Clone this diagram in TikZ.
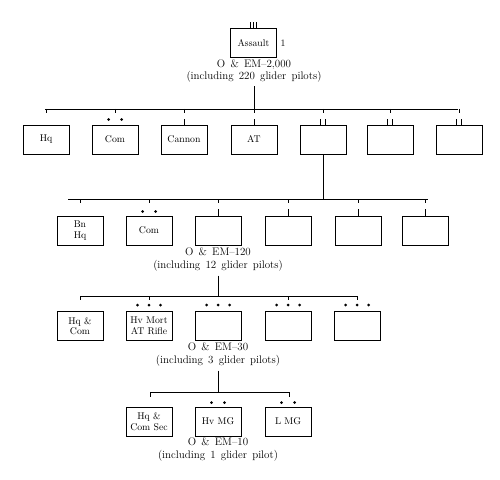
\documentclass[tikz,border=0pt]{standalone}
\newcommand\captfont{\fontsize{11}{12.5}\selectfont\spaceskip 5.2pt plus 1pt minus 1pt\relax}
\begin{document}
\begin{tikzpicture}[x=1bp,y=-1bp,line width=1pt,
  unit/.style={draw, minimum width=46bp, minimum height=29bp, inner sep=1pt, align=center,
    font=\fontsize{9.8}{10.8}\selectfont},
  capt/.style={align=center, inner sep=0pt, font=\captfont},
  sdot/.style={fill=black}]
\useasboundingbox (0,0) rectangle (500,480);

% ---------- regiment ----------
\node[unit] (reg) at (253.5,43.5) {Assault};
\node[anchor=west, inner sep=0pt, font=\fontsize{9.8}{10.8}\selectfont] (regno) at (280,43.5) {1};
\foreach \dx in {-3,0,3} \draw ([xshift=\dx bp]reg.north) -- ++(0,-6);
\node[capt] (regcap) at (254,71) {O \& EM--2,000\\(including 220 glider pilots)};

% ---------- row 1 ----------
\coordinate (r1L) at (45,109);
\coordinate (r1R) at (458,109);
\coordinate (r1C) at (254,109);
\node[unit] (a1) at (46,139.5) {Hq};
\node[unit] (a2) at (115,139.5) {Com};
\node[unit] (a3) at (184,139.5) {Cannon};
\node[unit] (a4) at (254,139.5) {AT};
\node[unit] (a5) at (323,139.5) {};
\node[unit] (a6) at (390,139.5) {};
\node[unit] (a7) at (459,139.5) {};
\draw ([yshift=-3bp]regcap.south -| r1C) -- (r1C);
\draw (r1L) -- (r1R);
\foreach \n in {a1,a2,a3,a4,a5,a6,a7} \draw (\n.north |- r1L) -- ++(0,4);
\foreach \dx in {-6.5,6.5} \fill[sdot] ([xshift=\dx bp,yshift=5bp]a2.north) circle (1.5bp);
\foreach \n in {a3,a4} \draw (\n.north) -- ++(0,-6);
\foreach \n in {a5,a6,a7} \foreach \dx in {-2.5,2.5} \draw ([xshift=\dx bp]\n.north) -- ++(0,-6);

% ---------- row 2 ----------
\coordinate (r2L) at (68,199);
\coordinate (r2R) at (428,199);
\node[unit] (b1) at (80,230.5) {Bn\\Hq};
\node[unit] (b2) at (149,230.5) {Com};
\node[unit] (b3) at (218,230.5) {};
\node[unit] (b4) at (288,230.5) {};
\node[unit] (b5) at (358,230.5) {};
\node[unit] (b6) at (425,230.5) {};
\draw (a5.south) -- (a5.south |- r2L);
\draw (r2L) -- (r2R);
\foreach \n in {b1,b2,b3,b4,b5,b6} \draw (\n.north |- r2L) -- ++(0,4);
\foreach \dx in {-6.5,6.5} \fill[sdot] ([xshift=\dx bp,yshift=4bp]b2.north) circle (1.5bp);
\foreach \n in {b3,b4,b5,b6} \draw (\n.north) -- ++(0,-7);
\node[capt] (b3cap) at (218,259.5) {O \& EM--120\\(including 12 glider pilots)};

% ---------- row 3 ----------
\coordinate (r3L) at (80,296);
\coordinate (r3R) at (357,296);
\node[unit] (c1) at (80,326) {Hq \&\\Com};
\node[unit] (c2) at (149,326) {Hv Mort\\AT Rifle};
\node[unit] (c3) at (218,326) {};
\node[unit] (c4) at (288,326) {};
\node[unit] (c5) at (357,326) {};
\draw ([yshift=-4bp]b3cap.south) -- (b3cap.south |- r3L);
\draw (r3L) -- (r3R);
\foreach \n in {c1,c2,c4,c5} \draw (\n.north |- r3L) -- ++(0,4);
\foreach \n in {c2,c3,c4,c5} \foreach \dx in {-11.5,0,11.5}
  \fill[sdot] ([xshift=\dx bp,yshift=6bp]\n.north) circle (1.5bp);
\node[capt] (c3cap) at (218,354.5) {O \& EM--30\\(including 3 glider pilots)};

% ---------- row 4 ----------
\coordinate (r4L) at (150,392);
\coordinate (r4R) at (289,392);
\node[unit] (d1) at (149,421.5) {Hq \&\\Com Sec};
\node[unit] (d2) at (218,421.5) {Hv MG};
\node[unit] (d3) at (288,421.5) {L MG};
\draw ([yshift=-4bp]c3cap.south) -- (c3cap.south |- r4L);
\draw (r4L) -- (r4R);
\draw (r4L) -- ++(0,5);
\draw (r4R) -- ++(0,5);
\foreach \n in {d2,d3} \foreach \dx in {-6.5,6.5}
  \fill[sdot] ([xshift=\dx bp,yshift=4bp]\n.north) circle (1.5bp);
\node[capt] (d2cap) at (218,449.5) {O \& EM--10\\(including 1 glider pilot)};
\end{tikzpicture}
\end{document}
